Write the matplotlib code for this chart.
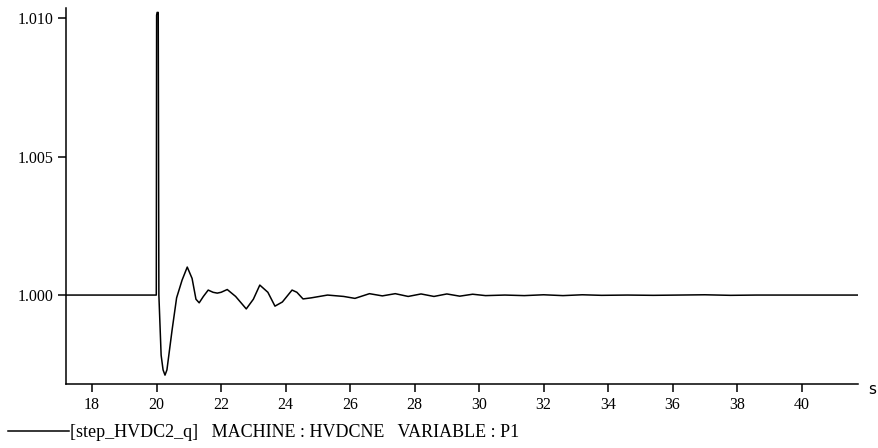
import matplotlib
matplotlib.use("Agg")
import matplotlib.pyplot as plt

# time (s) and P1 values
time_s = [17.2, 19.99, 20.00, 20.015, 20.05, 20.07, 20.14, 20.2, 20.26, 20.32,
          20.48, 20.62, 20.79, 20.95, 21.1, 21.22, 21.32, 21.45, 21.6, 21.75,
          21.88, 22.0, 22.19, 22.45, 22.78, 23.0, 23.2, 23.45, 23.67, 23.9,
          24.2, 24.35, 24.54, 24.8, 25.3, 25.8, 26.15, 26.6, 27.0, 27.4,
          27.8, 28.2, 28.6, 29.0, 29.4, 29.8, 30.2, 30.8, 31.4, 32.0,
          32.6, 33.2, 33.8, 34.6, 35.4, 36.2, 37.0, 37.8, 38.6, 39.4,
          40.2, 41.0, 41.75]
p1 = [1.0000, 1.0000, 1.0101, 1.0102, 1.0102, 1.0000, 0.99783, 0.9973, 0.99711, 0.9973,
      0.99874, 0.9999, 1.00054, 1.00101, 1.0006, 0.99985, 0.99972, 0.99995, 1.00018, 1.0001,
      1.00007, 1.0001, 1.0002, 0.99995, 0.9995, 0.99985, 1.00036, 1.0001, 0.9996, 0.99975,
      1.00018, 1.0001, 0.99986, 0.9999, 1.0000, 0.99995, 0.99988, 1.00005, 0.99997, 1.00005,
      0.99995, 1.00004, 0.99995, 1.00004, 0.99996, 1.00003, 0.99998, 1.0000, 0.99998, 1.00001,
      0.99998, 1.00001, 0.99999, 1.0000, 0.99999, 1.0000, 1.00001, 0.99999, 1.0000, 1.0000,
      1.0000, 1.0000, 1.0000]

x_ticks = [18, 20, 22, 24, 26, 28, 30, 32, 34, 36, 38, 40]
y_ticks = [1.000, 1.005, 1.010]
legend_text = "[step_HVDC2_q]   MACHINE : HVDCNE   VARIABLE : P1"

plt.rcParams['font.family'] = ['Liberation Serif', 'DejaVu Serif']

fig = plt.figure(figsize=(8.79, 4.48), dpi=100)
ax = fig.add_axes([66 / 879, 64 / 448, 792 / 879, 376 / 448])

ax.plot(time_s, p1, color='black', linewidth=1.1)

ax.set_xlim(17.19, 41.75)
ax.set_ylim(0.99679, 1.01036)
ax.set_xticks(x_ticks)
ax.set_yticks(y_ticks)
ax.set_yticklabels(["{:.3f}".format(v) for v in y_ticks])

for side in ['top', 'right']:
    ax.spines[side].set_visible(False)
for side in ['left', 'bottom']:
    ax.spines[side].set_linewidth(1.1)
ax.tick_params(axis='both', direction='out', length=6, width=1.1, labelsize=11.5, pad=3)

# unit label at the end of the time axis
fig.text(872 / 879, 1 - 389 / 448, "s", fontsize=11, ha='center', va='center',
         family='DejaVu Sans')

# legend line and text below the axis
fig.add_artist(plt.Line2D([8 / 879, 69 / 879], [1 - 431 / 448, 1 - 431 / 448],
                          color='black', linewidth=1.1))
fig.text(70 / 879, 1 - 432 / 448, legend_text, fontsize=13, ha='left', va='center')

fig.savefig("out.png", dpi=100)
